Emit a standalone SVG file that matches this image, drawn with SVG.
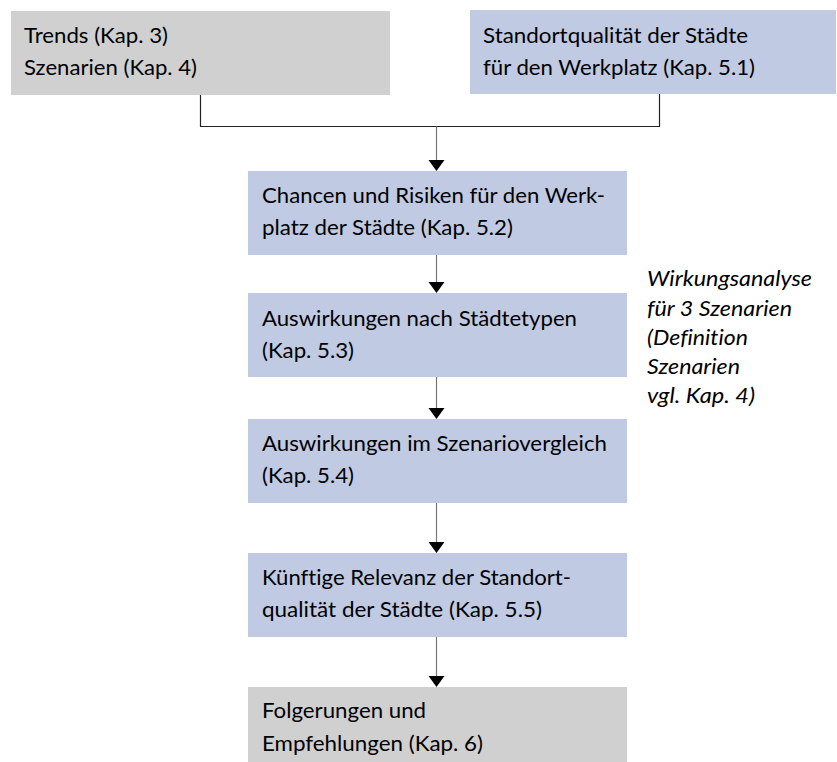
<svg xmlns="http://www.w3.org/2000/svg" width="837" height="762" viewBox="0 0 837 762">
<style>
.g{fill:#d0d0d0}
.b{fill:#c0cae2}
text{font-family:Lato,"Open Sans",sans-serif;font-size:21px;fill:#000;font-variant-ligatures:none}
.i{font-style:italic}
.ln{stroke:#222;stroke-width:1.2;fill:none}
.ar{stroke:#777;stroke-width:1.2;fill:none}
.ah{fill:#000}
</style>
<g id="n-trends">
<rect class="g" x="11" y="11" width="379" height="84"/>
<text x="24" y="43" textLength="144" lengthAdjust="spacingAndGlyphs">Trends (Kap. 3)</text>
<text x="24" y="75" textLength="173" lengthAdjust="spacingAndGlyphs">Szenarien (Kap. 4)</text>
</g>
<g id="n-standort">
<rect class="b" x="470" y="10" width="366" height="84"/>
<text x="483" y="43" textLength="265" lengthAdjust="spacingAndGlyphs">Standortqualität der Städte</text>
<text x="483" y="75" textLength="272" lengthAdjust="spacingAndGlyphs">für den Werkplatz (Kap. 5.1)</text>
</g>
<g id="n-chancen">
<rect class="b" x="248" y="171" width="379" height="84"/>
<text x="262" y="203" textLength="343" lengthAdjust="spacingAndGlyphs">Chancen und Risiken für den Werk-</text>
<text x="262" y="235" textLength="251" lengthAdjust="spacingAndGlyphs">platz der Städte (Kap. 5.2)</text>
</g>
<g id="n-typen">
<rect class="b" x="248" y="293" width="379" height="84"/>
<text x="262" y="326" textLength="315" lengthAdjust="spacingAndGlyphs">Auswirkungen nach Städtetypen</text>
<text x="262" y="358" textLength="92" lengthAdjust="spacingAndGlyphs">(Kap. 5.3)</text>
</g>
<g id="n-vergleich">
<rect class="b" x="248" y="419" width="379" height="84"/>
<text x="262" y="451" textLength="345" lengthAdjust="spacingAndGlyphs">Auswirkungen im Szenariovergleich</text>
<text x="262" y="483" textLength="92" lengthAdjust="spacingAndGlyphs">(Kap. 5.4)</text>
</g>
<g id="n-relevanz">
<rect class="b" x="248" y="553" width="379" height="84"/>
<text x="262" y="585" textLength="309" lengthAdjust="spacingAndGlyphs">Künftige Relevanz der Standort-</text>
<text x="262" y="617" textLength="280" lengthAdjust="spacingAndGlyphs">qualität der Städte (Kap. 5.5)</text>
</g>
<g id="n-folgerungen">
<rect class="g" x="248" y="687" width="379" height="75"/>
<text x="262" y="718" textLength="164" lengthAdjust="spacingAndGlyphs">Folgerungen und</text>
<text x="262" y="751" textLength="221" lengthAdjust="spacingAndGlyphs">Empfehlungen (Kap. 6)</text>
</g>
<g id="n-note">
<text class="i" x="647" y="286" textLength="165" lengthAdjust="spacingAndGlyphs">Wirkungsanalyse</text>
<text class="i" x="647" y="316" textLength="145" lengthAdjust="spacingAndGlyphs">für 3 Szenarien</text>
<text class="i" x="647" y="345" textLength="101" lengthAdjust="spacingAndGlyphs">(Definition</text>
<text class="i" x="647" y="374" textLength="93" lengthAdjust="spacingAndGlyphs">Szenarien</text>
<text class="i" x="647" y="403" textLength="108" lengthAdjust="spacingAndGlyphs">vgl. Kap. 4)</text>
</g>
<g id="connectors">
<path class="ln" d="M200.5,95 V126.5 H659.5 V94"/>
<path class="ar" d="M436.5,126.5 V160"/>
<path class="ah" d="M428.5,160 L444.5,160 L436.5,171 Z"/>
<path class="ar" d="M436.5,255 V282"/>
<path class="ah" d="M428.5,282 L444.5,282 L436.5,293 Z"/>
<path class="ar" d="M436.5,377 V408"/>
<path class="ah" d="M428.5,408 L444.5,408 L436.5,419 Z"/>
<path class="ar" d="M436.5,503 V542"/>
<path class="ah" d="M428.5,542 L444.5,542 L436.5,553 Z"/>
<path class="ar" d="M436.5,637 V676"/>
<path class="ah" d="M428.5,676 L444.5,676 L436.5,687 Z"/>
</g>
</svg>
